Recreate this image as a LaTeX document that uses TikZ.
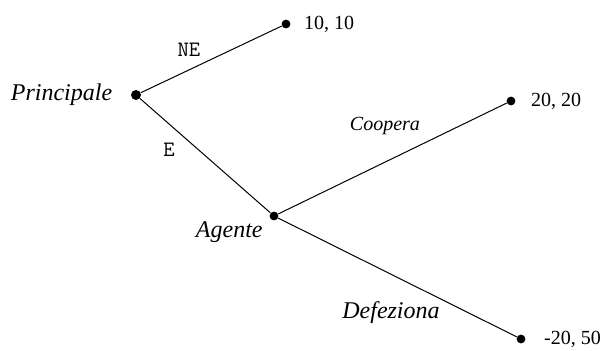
\documentclass[tikz,border=0pt]{standalone}
\usepackage{fontspec}
\setmainfont{Liberation Serif}
\usetikzlibrary{positioning}
\tikzset{
  dot/.style={circle, fill=black, inner sep=0pt, minimum size=4.4pt},
  player/.style={font=\fontsize{12}{14}\selectfont\itshape, inner sep=1pt},
  payoff/.style={font=\fontsize{10}{12}\selectfont, inner sep=1pt},
  movett/.style={font=\fontsize{11}{12}\selectfont\ttfamily, inner sep=1pt},
  moveit/.style={font=\fontsize{12}{14}\selectfont\itshape, inner sep=1pt},
  branch/.style={line width=0.5pt, draw=black},
}
\begin{document}
\begin{tikzpicture}[x=0.5pt, y=-0.5pt]
    \useasboundingbox (0,0) rectangle (607,351);
    % decision nodes and leaves
    \node[dot, minimum size=5pt] (princ) at (136,95) {};
    \node[dot] (agent) at (274,216) {};
    \node[dot] (leafne) at (286,24) {};
    \node[dot] (leafc) at (511,101) {};
    \node[dot] (leafd) at (521,339) {};

    \draw[branch] (princ) -- (leafne);
    \draw[branch] (princ) -- (agent);
    \draw[branch] (agent) -- (leafc);
    \draw[branch] (agent) -- (leafd);

    % players
    \node[player, left=8pt of princ] (lprinc) {Principale};
    \node[player, anchor=east] (lagent) at (265,232) {Agente};

    % moves
    \node[movett] (lne) at (189,50) {NE};
    \node[movett] (le) at (169,150) {E};
    \node[moveit, font=\fontsize{10}{12}\selectfont\itshape] (lcoop) at (385,126) {Coopera};
    \node[moveit] (ldef) at (391,313) {Defeziona};

    % payoffs
    \node[payoff, right=5.5pt of leafne] (pne) {10, 10};
    \node[payoff, right=6.5pt of leafc] (pc) {20, 20};
    \node[payoff, right=8pt of leafd] (pd) {-20, 50};
  \end{tikzpicture}
\end{document}
